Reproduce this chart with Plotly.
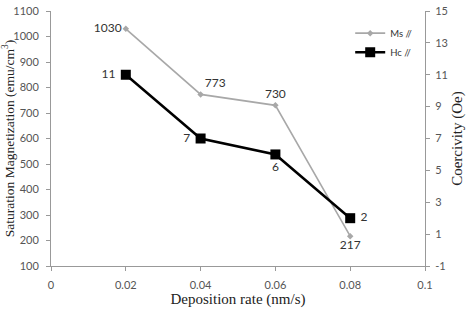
import plotly.graph_objects as go

rate = [0.02, 0.04, 0.06, 0.08]
ms = [1030, 773, 730, 217]
hc = [11, 7, 6, 2]
ms_labels = ["1030", "773", "730", "217"]
hc_labels = ["11", "7", "6", "2"]
x_ticks = [0, 0.02, 0.04, 0.06, 0.08, 0.1]
x_ticktext = ["0", "0.02", "0.04", "0.06", "0.08", "0.1"]
y_ticks = list(range(100, 1101, 100))
y2_ticks = list(range(-1, 16, 2))
y2_ticktext = ["-1", "1", "3", "5", "7", "9", "11", "13", "15"]

tickfont = dict(family="Lato, Liberation Sans, sans-serif", size=11, color="#555")
serif = "Liberation Serif, Times New Roman, serif"
labelfont = dict(family="Lato, Liberation Sans, sans-serif", size=12, color="#333")

fig = go.Figure()
fig.add_trace(go.Scatter(
    x=rate, y=ms, name="Ms //", mode="lines+markers+text",
    line=dict(color="#a8a8a8", width=1.6),
    marker=dict(symbol="diamond", size=5, color="#a8a8a8"),
    text=ms_labels,
    textposition=["middle left", "top right", "top center", "bottom center"],
    textfont=labelfont,
    cliponaxis=False,
))
fig.add_trace(go.Scatter(
    x=rate, y=hc, name="Hc //", mode="lines+markers+text", yaxis="y2",
    line=dict(color="#000000", width=2.5),
    marker=dict(symbol="square", size=10, color="#000000"),
    text=[" " + t + " " for t in hc_labels],
    textposition=["middle left", "middle left", "bottom center", "middle right"],
    textfont=labelfont,
    cliponaxis=False,
))

axis_common = dict(showgrid=False, zeroline=False, showline=True, linecolor="#999",
                   linewidth=1, ticks="outside", tickcolor="#999", ticklen=4, tickfont=tickfont,
                   automargin=False)

fig.update_layout(
    width=469, height=309,
    margin=dict(l=51, r=44, t=11, b=43),
    paper_bgcolor="white", plot_bgcolor="white",
    xaxis=dict(range=[0, 0.1], tickvals=x_ticks, ticktext=x_ticktext,
               ticklabelstandoff=5,
               title=dict(text="Deposition rate (nm/s)", font=dict(family=serif, size=15, color="#222"),
                          standoff=2),
               **axis_common),
    yaxis=dict(range=[100, 1100], tickvals=y_ticks,
               ticklabelstandoff=5,
               title=dict(text="Saturation Magnetization (emu/cm<sup>3</sup>)",
                          font=dict(family=serif, size=13.5, color="#222"), standoff=2),
               **axis_common),
    yaxis2=dict(range=[-1, 15], tickvals=y2_ticks, ticktext=y2_ticktext,
                overlaying="y", side="right",
                ticklabelstandoff=3,
                title=dict(text="Coercivity (Oe)", font=dict(family=serif, size=15, color="#222"),
                           standoff=4),
                **axis_common),
    legend=dict(x=0.80, y=0.97, xanchor="left", yanchor="top", bgcolor="rgba(0,0,0,0)",
                font=dict(family="Lato, sans-serif", size=9.5, color="#333"),
                itemwidth=30, tracegroupgap=2),
    showlegend=True,
)

fig.write_html("out.html")
